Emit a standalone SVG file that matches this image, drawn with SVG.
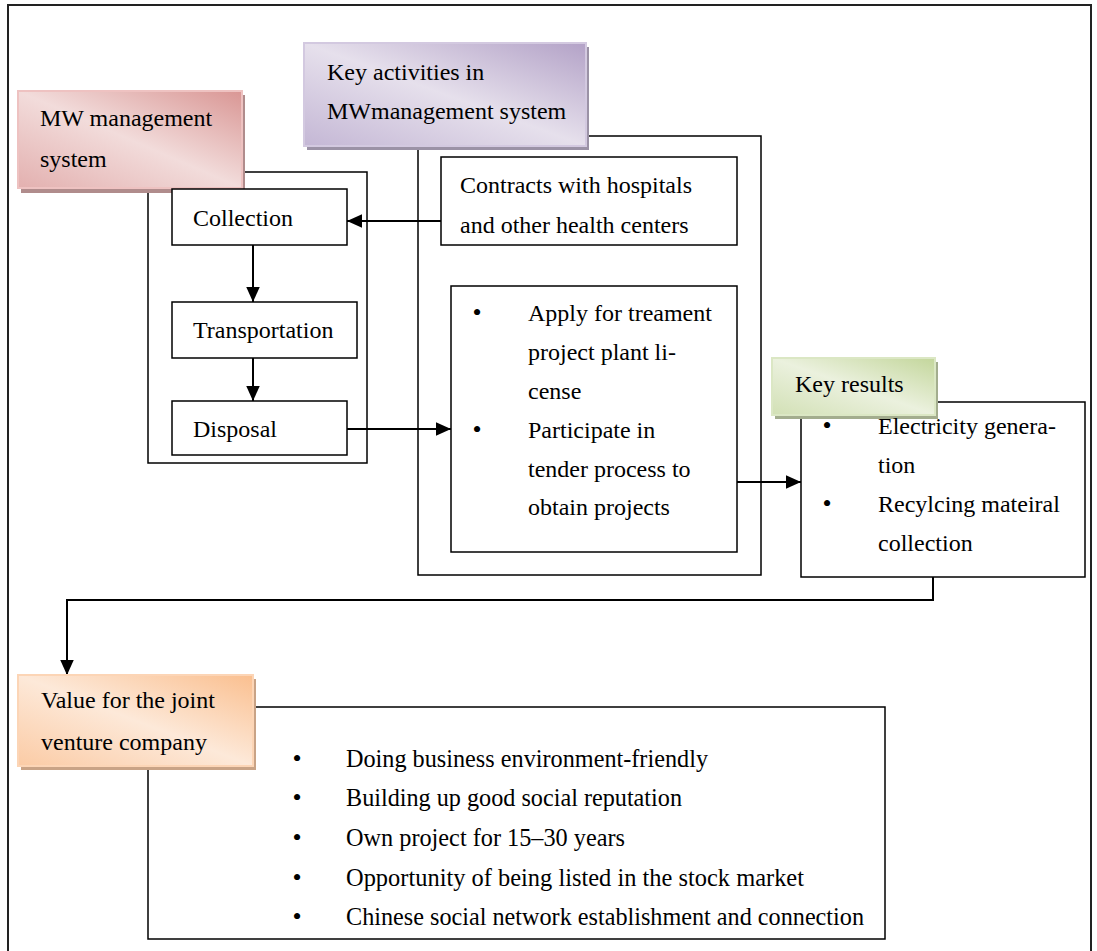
<svg xmlns="http://www.w3.org/2000/svg" width="1097" height="951" viewBox="0 0 1097 951">
  <defs>
    <linearGradient id="gPink" x1="1" y1="0" x2="0" y2="1">
      <stop offset="0" stop-color="#d99694"/>
      <stop offset="0.5" stop-color="#f2dcdb"/>
      <stop offset="1" stop-color="#e3b0af"/>
    </linearGradient>
    <linearGradient id="gPurple" x1="1" y1="0" x2="0" y2="1">
      <stop offset="0" stop-color="#b3a2c7"/>
      <stop offset="0.5" stop-color="#e6e0ec"/>
      <stop offset="1" stop-color="#c4b7d5"/>
    </linearGradient>
    <linearGradient id="gGreen" x1="1" y1="0" x2="0" y2="1">
      <stop offset="0" stop-color="#c3d69b"/>
      <stop offset="0.5" stop-color="#ebf1de"/>
      <stop offset="1" stop-color="#d2e0b5"/>
    </linearGradient>
    <linearGradient id="gOrange" x1="1" y1="0" x2="0" y2="1">
      <stop offset="0" stop-color="#fabf8f"/>
      <stop offset="0.5" stop-color="#fde9d9"/>
      <stop offset="1" stop-color="#fbcba5"/>
    </linearGradient>
    <marker id="arrow" viewBox="0 0 10 10" refX="10" refY="5" markerWidth="15" markerHeight="15" markerUnits="userSpaceOnUse" orient="auto">
      <path d="M0,0.5 L10,5 L0,9.5 z" fill="#000"/>
    </marker>
  </defs>
  <style>
    .t{font-family:"Liberation Serif","Times New Roman",serif;font-size:24px;fill:#000}
    .c{font-family:"Liberation Serif","Times New Roman",serif;font-size:26px;fill:#000}
    .b{font-family:"Liberation Serif","Times New Roman",serif;font-size:26px;fill:#000;text-anchor:middle}
    .box{fill:#fff;stroke:#000;stroke-width:1.5}
    .wrap{fill:none;stroke:#000;stroke-width:1.5}
    .conn{fill:none;stroke:#000;stroke-width:2;marker-end:url(#arrow)}
    .frame{fill:none;stroke:#222;stroke-width:2}
    .tab{stroke-width:2}
  </style>

  <!-- outer frame -->
  <rect class="frame" x="8" y="5" width="1083" height="960"/>

  <!-- enclosing boxes behind the tabs -->
  <g id="mw-wrap"><rect class="wrap" x="148" y="172" width="219" height="291"/></g>
  <g id="ka-wrap"><rect class="wrap" x="418" y="136" width="343" height="439"/></g>

  <!-- connectors -->
  <g id="connectors">
    <line class="conn" x1="441" y1="221" x2="347" y2="221"/>
    <line class="conn" x1="253" y1="245" x2="253" y2="302"/>
    <line class="conn" x1="253" y1="358" x2="253" y2="401"/>
    <line class="conn" x1="347" y1="429" x2="451" y2="429"/>
    <line class="conn" x1="737" y1="482" x2="801" y2="482"/>
    <polyline class="conn" points="933,577 933,600 67,600 67,675"/>
  </g>

  <!-- MW management system -->
  <g id="mw-system">
    <rect x="21" y="95" width="224" height="98" fill="#b08c8c"/>
    <rect class="tab" x="18" y="91" width="224" height="97" fill="url(#gPink)" stroke="#eec2c1"/>
    <text class="t" x="40" y="126">MW management</text>
    <text class="t" x="40" y="167">system</text>
  </g>

  <g id="collection">
    <rect class="box" x="172" y="189" width="175" height="56"/>
    <text class="t" x="193" y="226">Collection</text>
  </g>
  <g id="transportation">
    <rect class="box" x="172" y="302" width="185" height="56"/>
    <text class="t" x="193" y="338">Transportation</text>
  </g>
  <g id="disposal">
    <rect class="box" x="172" y="401" width="175" height="54"/>
    <text class="t" x="193" y="437">Disposal</text>
  </g>

  <!-- Key activities -->
  <g id="key-activities">
    <rect x="307" y="47" width="282" height="103" fill="#9b92a6"/>
    <rect class="tab" x="304" y="43" width="282" height="103" fill="url(#gPurple)" stroke="#d3c9e0"/>
    <text class="t" x="327" y="80">Key activities in</text>
    <text class="t" x="327" y="119">MWmanagement system</text>
  </g>

  <g id="contracts">
    <rect class="box" x="441" y="157" width="296" height="88"/>
    <text class="t" x="460" y="193">Contracts with hospitals</text>
    <text class="t" x="460" y="233">and other health centers</text>
  </g>

  <g id="apply">
    <rect class="box" x="451" y="286" width="286" height="266"/>
    <text class="b" x="477" y="321">•</text>
    <text class="t" x="528" y="321">Apply for treament</text>
    <text class="t" x="528" y="360">project plant li-</text>
    <text class="t" x="528" y="399">cense</text>
    <text class="b" x="477" y="438">•</text>
    <text class="t" x="528" y="438">Participate in</text>
    <text class="t" x="528" y="477">tender process to</text>
    <text class="t" x="528" y="515">obtain projects</text>
  </g>

  <!-- Key results -->
  <g id="key-results">
    <rect class="box" x="801" y="402" width="284" height="175"/>
    <rect x="775" y="362" width="163" height="57" fill="#a3ad8e"/>
    <rect class="tab" x="772" y="358" width="163" height="57" fill="url(#gGreen)" stroke="#dbe7c4"/>
    <text class="t" x="795" y="392">Key results</text>
    <text class="b" x="827" y="434">•</text>
    <text class="t" x="878" y="434">Electricity genera-</text>
    <text class="t" x="878" y="473">tion</text>
    <text class="b" x="827" y="512">•</text>
    <text class="t" x="878" y="512">Recylcing mateiral</text>
    <text class="t" x="878" y="551">collection</text>
  </g>

  <!-- Value for the joint venture company -->
  <g id="value">
    <rect class="box" x="148" y="707" width="737" height="232"/>
    <rect x="21" y="679" width="235" height="91" fill="#c9a386"/>
    <rect class="tab" x="18" y="675" width="235" height="91" fill="url(#gOrange)" stroke="#fcd5b6"/>
    <text class="t" x="41" y="708">Value for the joint</text>
    <text class="t" x="41" y="750">venture company</text>
    <text class="b" x="297" y="767">•</text>
    <text class="c" x="346" y="767" textLength="362" lengthAdjust="spacingAndGlyphs">Doing business environment-friendly</text>
    <text class="b" x="297" y="806">•</text>
    <text class="c" x="346" y="806" textLength="336" lengthAdjust="spacingAndGlyphs">Building up good social reputation</text>
    <text class="b" x="297" y="846">•</text>
    <text class="c" x="346" y="846" textLength="279" lengthAdjust="spacingAndGlyphs">Own project for 15–30 years</text>
    <text class="b" x="297" y="886">•</text>
    <text class="c" x="346" y="886" textLength="458" lengthAdjust="spacingAndGlyphs">Opportunity of being listed in the stock market</text>
    <text class="b" x="297" y="925">•</text>
    <text class="c" x="346" y="925" textLength="518" lengthAdjust="spacingAndGlyphs">Chinese social network establishment and connection</text>
  </g>
</svg>
